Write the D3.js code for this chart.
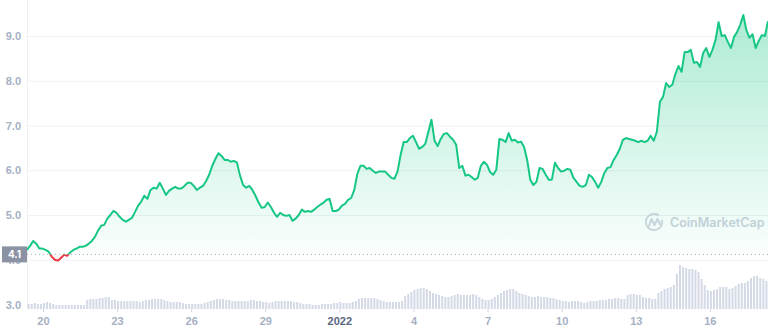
<!DOCTYPE html>
<html>
<head>
<meta charset="utf-8">
<script src="https://cdn.jsdelivr.net/npm/d3@7"></script>
<style>
  body { margin: 0; background: #fff; }
  svg { display: block; font-family: Inter, "Noto Sans", sans-serif; }
</style>
</head>
<body>
<svg id="chart" width="768" height="331"></svg>
<script>
// 30 days of price, one point every 3 hours, starting 19 Dec 2021 08:30 UTC
var startTime = Date.UTC(2021, 11, 19, 8, 30);
var stepHours = 3;

var prices = [
  4.22, 4.31, 4.42, 4.36, 4.25, 4.25, 4.22, 4.18, 4.07, 4.00,
  3.98, 4.04, 4.11, 4.09, 4.16, 4.22, 4.25, 4.29, 4.29, 4.31,
  4.36, 4.42, 4.51, 4.65, 4.76, 4.78, 4.92, 5.00, 5.09, 5.05,
  4.96, 4.89, 4.85, 4.89, 4.94, 5.07, 5.21, 5.30, 5.43, 5.36,
  5.56, 5.61, 5.59, 5.72, 5.59, 5.45, 5.54, 5.59, 5.63, 5.59,
  5.59, 5.65, 5.72, 5.72, 5.65, 5.56, 5.61, 5.65, 5.76, 5.90,
  6.10, 6.25, 6.38, 6.32, 6.23, 6.23, 6.19, 6.21, 6.17, 5.88,
  5.67, 5.61, 5.65, 5.56, 5.43, 5.28, 5.16, 5.18, 5.28, 5.18,
  5.05, 4.96, 5.05, 5.00, 4.98, 5.00, 4.87, 4.92, 5.00, 5.12,
  5.07, 5.09, 5.07, 5.12, 5.18, 5.23, 5.27, 5.34, 5.36, 5.09,
  5.09, 5.12, 5.21, 5.25, 5.34, 5.38, 5.56, 5.92, 6.10, 6.10,
  6.03, 6.05, 5.99, 5.94, 5.97, 5.97, 5.97, 5.90, 5.83, 5.81,
  5.97, 6.34, 6.63, 6.63, 6.72, 6.77, 6.63, 6.48, 6.52, 6.59,
  6.86, 7.13, 6.66, 6.54, 6.70, 6.81, 6.83, 6.75, 6.68, 6.57,
  6.05, 6.10, 5.88, 5.90, 5.85, 5.79, 5.83, 6.10, 6.19, 6.12,
  5.96, 5.90, 6.01, 6.70, 6.68, 6.63, 6.83, 6.66, 6.68, 6.62,
  6.64, 6.52, 6.23, 5.79, 5.67, 5.74, 6.05, 6.03, 5.90, 5.79,
  5.79, 6.17, 6.05, 5.97, 5.99, 6.03, 6.01, 5.83, 5.74, 5.65,
  5.63, 5.67, 5.90, 5.85, 5.74, 5.61, 5.74, 5.94, 6.05, 6.07,
  6.23, 6.34, 6.48, 6.68, 6.72, 6.70, 6.68, 6.66, 6.63, 6.66,
  6.63, 6.66, 6.77, 6.66, 6.86, 7.53, 7.64, 7.95, 7.86, 7.91,
  8.15, 8.33, 8.20, 8.64, 8.64, 8.69, 8.40, 8.42, 8.31, 8.62,
  8.73, 8.53, 8.69, 8.91, 9.31, 9.00, 9.02, 8.87, 8.73, 8.98,
  9.09, 9.25, 9.47, 9.13, 8.96, 9.04, 8.73, 8.89, 9.02, 9.00,
  9.33
];

// trading volume (millions), one bar per 3 hours
var volumes = [
  25, 25, 30, 25, 25, 30, 35, 30, 25, 20,
  20, 20, 20, 20, 20, 20, 20, 20, 20, 45,
  50, 50, 50, 55, 55, 60, 60, 45, 45, 40,
  40, 40, 40, 40, 40, 40, 35, 40, 45, 45,
  50, 50, 50, 50, 45, 40, 35, 35, 35, 35,
  30, 25, 25, 25, 25, 25, 25, 30, 35, 40,
  45, 50, 50, 50, 45, 45, 40, 40, 40, 40,
  40, 40, 45, 45, 40, 40, 35, 35, 30, 35,
  40, 40, 40, 40, 40, 40, 35, 35, 30, 25,
  25, 25, 20, 20, 20, 25, 25, 25, 25, 30,
  30, 35, 30, 30, 30, 35, 40, 50, 55, 55,
  55, 55, 55, 50, 45, 40, 35, 35, 35, 35,
  35, 40, 65, 75, 85, 95, 100, 105, 105, 100,
  90, 80, 75, 70, 65, 60, 60, 65, 70, 75,
  70, 70, 70, 70, 75, 70, 60, 50, 45, 45,
  50, 60, 70, 80, 90, 95, 100, 100, 90, 80,
  75, 70, 65, 60, 60, 65, 60, 60, 60, 55,
  55, 50, 45, 40, 40, 35, 40, 40, 40, 35,
  30, 35, 40, 40, 40, 45, 45, 45, 50, 50,
  55, 55, 50, 50, 70, 75, 75, 70, 70, 60,
  55, 55, 50, 50, 80, 90, 100, 105, 110, 120,
  175, 220, 210, 205, 200, 200, 195, 185, 150, 120,
  95, 90, 95, 100, 110, 110, 110, 100, 105, 115,
  125, 130, 130, 140, 155, 165, 165, 155, 150, 140
];

var refPrice = 4.12;
var priceTicks = [3, 4, 5, 6, 7, 8, 9];
var dateTicks = [
  [2021, 11, 20], [2021, 11, 23], [2021, 11, 26], [2021, 11, 29],
  [2022, 0, 1], [2022, 0, 4], [2022, 0, 7], [2022, 0, 10],
  [2022, 0, 13], [2022, 0, 16]
];

var green = "#16c784", red = "#ea3943";
var hour = 3600 * 1000;

var svg = d3.select("#chart");
var left = 27, right = 768, volBase = 309;

var points = prices.map(function(v, i) {
  return { t: new Date(startTime + i * stepHours * hour), v: v };
});
var bars = volumes.map(function(v, i) {
  return { t: new Date(startTime + (i + 0.5) * stepHours * hour), v: v };
});

var x = d3.scaleUtc()
  .domain([points[0].t, points[points.length - 1].t])
  .range([left, right]);
var y = d3.scaleLinear().domain([3, 9]).range([304.5, 36]);
var yVol = d3.scaleLinear().domain([0, 250]).range([volBase, volBase - 50]);
var yRef = y(refPrice);

var defs = svg.append("defs");
var gGrad = defs.append("linearGradient").attr("id", "gradUp")
  .attr("gradientUnits", "userSpaceOnUse")
  .attr("x1", 0).attr("x2", 0).attr("y1", 10).attr("y2", yRef);
gGrad.append("stop").attr("offset", 0).attr("stop-color", green).attr("stop-opacity", 0.36);
gGrad.append("stop").attr("offset", 1).attr("stop-color", green).attr("stop-opacity", 0.02);
var rGrad = defs.append("linearGradient").attr("id", "gradDown")
  .attr("gradientUnits", "userSpaceOnUse")
  .attr("x1", 0).attr("x2", 0).attr("y1", yRef).attr("y2", yRef + 12);
rGrad.append("stop").attr("offset", 0).attr("stop-color", red).attr("stop-opacity", 0.02);
rGrad.append("stop").attr("offset", 1).attr("stop-color", red).attr("stop-opacity", 0.2);

defs.append("clipPath").attr("id", "clipUp")
  .append("rect").attr("x", 0).attr("y", 0).attr("width", 768).attr("height", yRef);
defs.append("clipPath").attr("id", "clipDown")
  .append("rect").attr("x", 0).attr("y", yRef).attr("width", 768).attr("height", 331 - yRef);

// grid + y labels
var yAxis = svg.append("g")
  .attr("transform", "translate(" + left + ",0)")
  .call(d3.axisLeft(y).tickValues(priceTicks).tickFormat(d3.format(".1f"))
    .tickSize(-(right - left)).tickPadding(6));
yAxis.select(".domain").remove();
yAxis.selectAll("line").attr("stroke", "#eff2f5")
  .attr("display", function(d) { return d === 3 ? "none" : null; });
yAxis.selectAll("text").attr("fill", "#a6b0c3").attr("font-size", 11).attr("font-weight", 600);

svg.append("line").attr("x1", left + 0.5).attr("x2", left + 0.5)
  .attr("y1", 0).attr("y2", volBase).attr("stroke", "#eff2f5");

// volume
svg.append("g").selectAll("rect").data(bars).enter().append("rect")
  .attr("x", function(d) { return x(d.t) - 1; })
  .attr("width", 2)
  .attr("y", function(d) { return yVol(d.v); })
  .attr("height", function(d) { return volBase - yVol(d.v); })
  .attr("fill", "#d4d9e6");

// watermark
var wm = svg.append("g").attr("transform", "translate(654,222)").attr("opacity", 0.9);
wm.append("path")
  .attr("d", d3.arc()({ innerRadius: 7.2, outerRadius: 9, startAngle: 0.5, endAngle: 2 * Math.PI - 0.15 }))
  .attr("transform", "rotate(45)")
  .attr("fill", "#cdd1dd");
wm.append("path")
  .attr("d", "M-5,4 L-2.5,-3 L0.5,3 L3.5,-3 L6,2")
  .attr("fill", "none").attr("stroke", "#cdd1dd").attr("stroke-width", 2)
  .attr("stroke-linejoin", "round").attr("stroke-linecap", "round");
svg.append("text").attr("x", 670).attr("y", 227)
  .attr("font-size", 12.5).attr("font-weight", 600).attr("fill", "#cdd1dd")
  .text("CoinMarketCap");

// price area + line
var area = d3.area()
  .x(function(d) { return x(d.t); })
  .y0(yRef)
  .y1(function(d) { return y(d.v); });
var line = d3.line()
  .x(function(d) { return x(d.t); })
  .y(function(d) { return y(d.v); });

svg.append("path").datum(points).attr("d", area)
  .attr("fill", "url(#gradUp)").attr("clip-path", "url(#clipUp)");
svg.append("path").datum(points).attr("d", area)
  .attr("fill", "url(#gradDown)").attr("clip-path", "url(#clipDown)");

// reference price
svg.append("line").attr("x1", left).attr("x2", right)
  .attr("y1", yRef).attr("y2", yRef)
  .attr("stroke", "#a6b0c3").attr("stroke-dasharray", "1,3");

svg.append("path").datum(points).attr("d", line)
  .attr("fill", "none").attr("stroke", green).attr("stroke-width", 2)
  .attr("stroke-linejoin", "round").attr("clip-path", "url(#clipUp)");
svg.append("path").datum(points).attr("d", line)
  .attr("fill", "none").attr("stroke", red).attr("stroke-width", 2)
  .attr("stroke-linejoin", "round").attr("clip-path", "url(#clipDown)");

svg.append("rect").attr("x", 2).attr("y", yRef - 8).attr("width", 25).attr("height", 16)
  .attr("fill", "#8b92a3");
svg.append("text").attr("x", 14.5).attr("y", yRef + 3.5)
  .attr("text-anchor", "middle").attr("font-size", 10).attr("font-weight", 700)
  .attr("fill", "#fff").text(d3.format(".1f")(refPrice));

// x axis
var tickDates = dateTicks.map(function(d) { return new Date(Date.UTC(d[0], d[1], d[2])); });
var xAxis = svg.append("g")
  .attr("transform", "translate(0," + volBase + ")")
  .call(d3.axisBottom(x).tickValues(tickDates).tickSize(3).tickPadding(5)
    .tickFormat(function(d) {
      return d.getUTCMonth() === 0 && d.getUTCDate() === 1 ? d.getUTCFullYear() : d.getUTCDate();
    }));
xAxis.select(".domain").remove();
xAxis.selectAll("line").attr("stroke", "#cfd6e4");
xAxis.selectAll("text")
  .attr("font-size", 11).attr("font-weight", 600)
  .attr("fill", function(d) { return d.getUTCDate() === 1 ? "#58667e" : "#a6b0c3"; })
  .attr("font-weight", function(d) { return d.getUTCDate() === 1 ? 700 : 600; });
</script>
</body>
</html>
